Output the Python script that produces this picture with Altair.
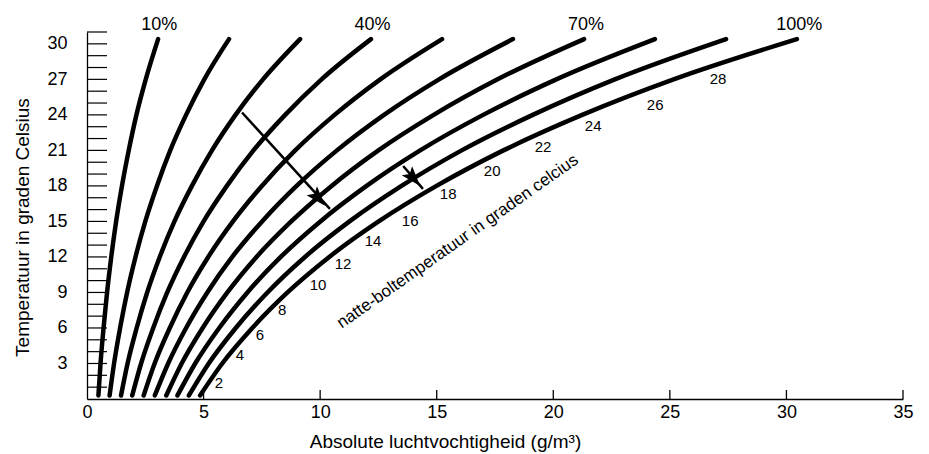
import altair as alt
import pandas as pd

FONT = "Liberation Sans"

# Temperature (deg C) at which each curve is sampled
temps = [0.3, 3, 6, 9, 12, 15, 18, 21, 24, 27, 30.4]

# Absolute humidity (g/m3) of each relative-humidity curve
rh_10 = [0.49, 0.58, 0.71, 0.86, 1.04, 1.25, 1.50, 1.79, 2.12, 2.52, 3.05]
rh_20 = [0.97, 1.16, 1.42, 1.72, 2.08, 2.50, 3.00, 3.57, 4.25, 5.03, 6.09]
rh_30 = [1.46, 1.74, 2.13, 2.58, 3.12, 3.75, 4.50, 5.36, 6.37, 7.55, 9.14]
rh_40 = [1.94, 2.32, 2.84, 3.44, 4.16, 5.00, 6.00, 7.14, 8.50, 10.06, 12.18]
rh_50 = [2.43, 2.90, 3.55, 4.30, 5.20, 6.26, 7.50, 8.93, 10.62, 12.58, 15.23]
rh_60 = [2.91, 3.48, 4.25, 5.16, 6.23, 7.51, 8.99, 10.72, 12.74, 15.10, 18.27]
rh_70 = [3.40, 4.06, 4.96, 6.02, 7.27, 8.76, 10.49, 12.50, 14.87, 17.61, 21.32]
rh_80 = [3.88, 4.64, 5.67, 6.88, 8.31, 10.01, 11.99, 14.29, 16.99, 20.13, 24.36]
rh_90 = [4.37, 5.22, 6.38, 7.74, 9.35, 11.26, 13.49, 16.07, 19.12, 22.64, 27.41]
rh_100 = [4.85, 5.80, 7.09, 8.60, 10.39, 12.51, 14.99, 17.86, 21.24, 25.16, 30.45]

curve_names = ["10%", "20%", "30%", "40%", "50%", "60%", "70%", "80%", "90%", "100%"]
curve_values = [rh_10, rh_20, rh_30, rh_40, rh_50, rh_60, rh_70, rh_80, rh_90, rh_100]

# Curve labels at the top
top_labels = ["10%", "40%", "70%", "100%"]
top_label_x = [3.1, 12.25, 21.4, 30.55]
top_label_t = [31.6, 31.6, 31.6, 31.6]

# Wet-bulb temperature labels along the saturation curve
wb_labels = ["2", "4", "6", "8", "10", "12", "14", "16", "18", "20", "22", "24", "26", "28"]
wb_x = [5.66, 6.56, 7.42, 8.37, 9.91, 10.98, 12.27, 13.86, 15.49, 17.38, 19.56, 21.71, 24.37, 27.07]
wb_t = [1.35, 3.70, 5.38, 7.49, 9.59, 11.44, 13.37, 15.05, 17.32, 19.26, 21.28, 23.04, 24.81, 27.00]

# Arrows: start, end, head position
arrow_x1 = [6.65, 13.56]
arrow_t1 = [24.2, 19.68]
arrow_x2 = [10.42, 14.41]
arrow_t2 = [16.06, 17.75]
arrow_hx = [9.91, 13.99]
arrow_ht = [16.99, 18.67]

# Ladder ticks on the temperature axis (every degree)
ladder_t = list(range(1, 32))
# Tick marks on the humidity axis
x_ticks = [5, 10, 15, 20, 25, 30, 35]

rows = []
for name, vals in zip(curve_names, curve_values):
    for t, x in zip(temps, vals):
        rows.append({"curve": name, "t": t, "x": x})
curves_df = pd.DataFrame(rows)

xscale = alt.Scale(domain=[0, 35], nice=False, zero=False)
yscale = alt.Scale(domain=[0, 31], nice=False, zero=False)

x_axis = alt.Axis(
    values=[0, 5, 10, 15, 20, 25, 30, 35], ticks=False, grid=False,
    domainColor="black", domainWidth=1.3, labelFontSize=18, labelPadding=4,
    labelColor="black", labelFont=FONT, labelFlush=False,
    title="Absolute luchtvochtigheid (g/m³)", titleFont=FONT, titleFontSize=19,
    titleFontWeight="normal", titleColor="black", titleX=358, titleY=42,
    titleAlign="center", titleBaseline="middle",
)
y_axis = alt.Axis(
    values=[3, 6, 9, 12, 15, 18, 21, 24, 27, 30], ticks=False, grid=False,
    domainColor="black", domainWidth=1.3, labelFontSize=18, labelPadding=20,
    labelColor="black", labelFont=FONT,
    title="Temperatuur in graden Celsius", titleFont=FONT, titleFontSize=19,
    titleFontWeight="normal", titleColor="black", titleX=-65, titleY=195,
    titleAlign="center", titleBaseline="middle", titleAngle=270,
)

lines = alt.Chart(curves_df).mark_line(
    color="black", strokeWidth=4.5, interpolate="monotone", strokeCap="round"
).encode(
    x=alt.X("x:Q", scale=xscale, axis=x_axis),
    y=alt.Y("t:Q", scale=yscale, axis=y_axis),
    detail="curve:N",
    order="t:Q",
)

ladder = alt.Chart(pd.DataFrame({"t": ladder_t})).mark_rule(
    color="black", strokeWidth=1.2
).encode(
    x=alt.value(0), x2=alt.value(20),
    y=alt.Y("t:Q", scale=yscale),
)

xticks = alt.Chart(pd.DataFrame({"x": x_ticks})).mark_rule(
    color="black", strokeWidth=1.3
).encode(
    x=alt.X("x:Q", scale=xscale),
    y=alt.value(367), y2=alt.value(358),
)

top_text = alt.Chart(pd.DataFrame({"x": top_label_x, "t": top_label_t, "label": top_labels})).mark_text(
    font=FONT, fontSize=18, color="black", align="center", baseline="middle"
).encode(
    x=alt.X("x:Q", scale=xscale),
    y=alt.Y("t:Q", scale=yscale),
    text="label:N",
)

wb_text = alt.Chart(pd.DataFrame({"x": wb_x, "t": wb_t, "label": wb_labels})).mark_text(
    font=FONT, fontSize=15, color="black", align="center", baseline="middle"
).encode(
    x=alt.X("x:Q", scale=xscale),
    y=alt.Y("t:Q", scale=yscale),
    text="label:N",
)

diag_text = alt.Chart(pd.DataFrame({"x": [15.9], "t": [13.3], "label": ["natte-boltemperatuur in graden celcius"]})).mark_text(
    font=FONT, fontSize=17, color="black", align="center", baseline="middle", angle=325
).encode(
    x=alt.X("x:Q", scale=xscale),
    y=alt.Y("t:Q", scale=yscale),
    text="label:N",
)

arrows_df = pd.DataFrame({"x": arrow_x1, "t": arrow_t1, "x2": arrow_x2, "t2": arrow_t2})
heads_df = pd.DataFrame({"x": arrow_hx, "t": arrow_ht})
arrow_lines = alt.Chart(arrows_df).mark_rule(color="black", strokeWidth=2.5).encode(
    x=alt.X("x:Q", scale=xscale),
    y=alt.Y("t:Q", scale=yscale),
    x2="x2:Q", y2="t2:Q",
)
arrow_heads = alt.Chart(heads_df).mark_point(
    shape="M0,-1L0.65,0.9L0,0.5L-0.65,0.9Z", filled=True, color="black", opacity=1,
    size=450, angle=139
).encode(
    x=alt.X("x:Q", scale=xscale),
    y=alt.Y("t:Q", scale=yscale),
)

chart = alt.layer(
    lines, ladder, xticks, arrow_lines, arrow_heads, top_text, wb_text, diag_text
).properties(
    width=816, height=367,
    autosize=alt.AutoSizeParams(type="none"),
    padding={"left": 79, "top": 24, "right": 18, "bottom": 54},
).configure(font=FONT).configure_view(stroke=None)

chart.save("out.html", embed_options={"renderer": "svg", "actions": False})
